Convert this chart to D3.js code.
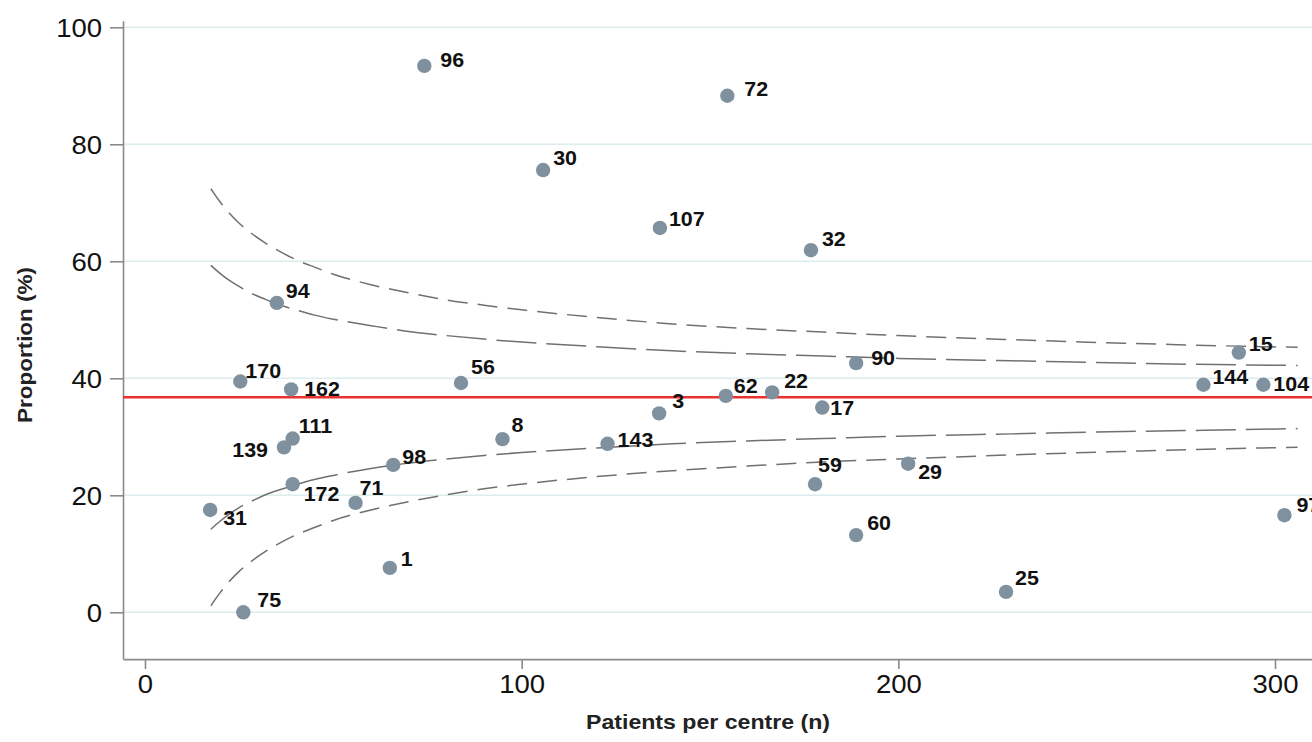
<!DOCTYPE html>
<html>
<head>
<meta charset="utf-8">
<script src="https://cdn.jsdelivr.net/npm/d3@7"></script>
<style>
  html, body { margin: 0; padding: 0; background: #fff; }
  svg { display: block; font-family: "Liberation Sans", Arial, Helvetica, sans-serif; }
</style>
</head>
<body>
<svg id="chart" width="1312" height="742"></svg>
<script>
// ---------- data ----------
const centreIds = [96, 72, 30, 107, 32, 94, 90, 15, 170, 162, 56, 62, 22, 17, 144, 104, 3, 8, 143, 111, 139, 98, 59, 29, 172, 71, 31, 60, 97, 1, 25, 75];
const patients  = [74.15, 154.6, 105.7, 136.7, 176.8, 35.0, 188.8, 290.4, 25.3, 38.8, 83.9, 154.2, 166.5, 179.8, 281.0, 296.9, 136.5, 94.9, 122.8, 39.2, 36.9, 65.9, 177.9, 202.6, 39.2, 55.9, 17.3, 188.8, 302.5, 65.0, 228.6, 26.1];
const proportion = [93.4, 88.3, 75.6, 65.7, 61.9, 52.9, 42.6, 44.4, 39.45, 38.1, 39.2, 37.0, 37.6, 35.0, 38.9, 38.9, 34.0, 29.6, 28.8, 29.7, 28.2, 25.2, 21.9, 25.4, 21.9, 18.7, 17.5, 13.2, 16.6, 7.6, 3.5, 0.0];

const overallProportion = 36.75;

// control-limit curves
const limitN      = [17.5, 18, 20, 22, 25, 28, 32, 36, 40, 45, 50, 60, 70, 80, 90, 100, 120, 140, 160, 180, 200, 230, 260, 290, 306];
const upperOuter  = [72.4, 71.9, 70.1, 68.5, 66.5, 64.9, 63.1, 61.6, 60.3, 59.0, 57.8, 56.0, 54.6, 53.4, 52.5, 51.7, 50.4, 49.3, 48.5, 47.9, 47.3, 46.6, 46.0, 45.5, 45.3];
const upperInner  = [59.3, 59.0, 57.9, 56.9, 55.7, 54.6, 53.5, 52.5, 51.7, 50.8, 50.1, 49.0, 48.0, 47.3, 46.7, 46.2, 45.4, 44.7, 44.2, 43.8, 43.4, 43.0, 42.6, 42.3, 42.2];
const lowerInner  = [14.2, 14.5, 15.6, 16.6, 17.9, 18.9, 20.1, 21.0, 21.8, 22.7, 23.4, 24.6, 25.5, 26.2, 26.8, 27.3, 28.1, 28.8, 29.3, 29.7, 30.1, 30.5, 30.9, 31.2, 31.4];
const lowerOuter  = [1.1, 1.6, 3.4, 5.0, 7.0, 8.6, 10.4, 11.9, 13.2, 14.5, 15.7, 17.5, 18.9, 20.1, 21.1, 21.9, 23.2, 24.2, 25.0, 25.7, 26.2, 26.9, 27.5, 28.0, 28.2];

const xTicks = [0, 100, 200, 300];
const yTicks = [0, 20, 40, 60, 80, 100];
const xTitle = "Patients per centre (n)";
const yTitle = "Proportion (%)";

// ---------- label placement (dx, dy from dot centre) ----------
const labelOffset = {
  96: [16, 1], 72: [17, 0], 30: [10, -5], 107: [9, -2], 32: [11, -4], 94: [9, -5],
  90: [15, 2], 15: [10, -2], 170: [5, -4], 162: [13, 7], 56: [10, -9], 62: [8, -3],
  22: [12, -4], 17: [8, 7], 144: [9, -1], 104: [10, 6], 3: [13, -5], 8: [9, -7],
  143: [10, 3], 111: [6, -6], 139: [-16, 10, "end"], 98: [9, -1], 59: [3, -12],
  29: [10, 15], 172: [11, 17], 71: [4, -8], 31: [13, 15], 60: [11, -5], 97: [12, -3],
  1: [11, -2], 25: [9, -7], 75: [14, -5]
};

// ---------- scales ----------
const svg = d3.select("#chart");
const W = 1312;
const x = d3.scaleLinear().domain([0, 300]).range([145, 1275]);
const y = d3.scaleLinear().domain([0, 100]).range([612.3, 27.3]);

const xAxisScale = x.copy().domain([-5.84, 320]).range([x(-5.84), x(320)]);
const yAxisScale = y.copy().domain([-8, 101.1]).range([y(-8), y(101.1)]);

// ---------- gridlines ----------
svg.append("g").selectAll("line").data(yTicks).join("line")
  .attr("x1", x(-5.84)).attr("x2", W)
  .attr("y1", d => y(d)).attr("y2", d => y(d))
  .attr("stroke", "#dcedee").attr("stroke-width", 1.6);

// ---------- axes ----------
const gx = svg.append("g").attr("transform", `translate(0,${y(-8)})`)
  .call(d3.axisBottom(xAxisScale).tickValues(xTicks).tickSize(10).tickSizeOuter(0).tickPadding(6));
const gy = svg.append("g").attr("transform", `translate(${x(-5.84)},0)`)
  .call(d3.axisLeft(yAxisScale).tickValues(yTicks).tickSize(13).tickSizeOuter(0).tickPadding(8));

[gx, gy].forEach(g => {
  g.select(".domain").attr("stroke", "#8a8a8a").attr("stroke-width", 1.6);
  g.selectAll(".tick line").attr("stroke", "#8a8a8a").attr("stroke-width", 1.6);
  g.selectAll(".tick text").attr("fill", "#111").attr("font-size", 25)
    .attr("font-family", "'Liberation Sans', Arial, sans-serif");
});
gy.selectAll(".tick text").attr("x", null).attr("dy", "0.35em")
  .attr("transform", "translate(-21,0) scale(1.1,1)");
gx.selectAll(".tick text").attr("y", null).attr("dy", "0.72em")
  .attr("transform", "translate(0,16) scale(1.1,1)");

// ---------- titles ----------
svg.append("text")
  .attr("x", 708).attr("y", 729)
  .attr("text-anchor", "middle")
  .attr("font-size", 21).attr("font-weight", "bold").attr("fill", "#222")
  .attr("textLength", 244).attr("lengthAdjust", "spacingAndGlyphs")
  .text(xTitle);

svg.append("text")
  .attr("transform", "translate(32,345) rotate(-90)")
  .attr("text-anchor", "middle")
  .attr("font-size", 21).attr("font-weight", "bold").attr("fill", "#222")
  .attr("textLength", 156).attr("lengthAdjust", "spacingAndGlyphs")
  .text(yTitle);

// ---------- funnel limits ----------
const lineGen = vals => d3.line()
  .x((d, i) => x(limitN[i]))
  .y(d => y(d))
  .curve(d3.curveMonotoneX)(vals);

[[upperOuter, "12,9"], [lowerOuter, "12,9"]].forEach(([vals, dash]) => {
  svg.append("path").attr("d", lineGen(vals))
    .attr("fill", "none").attr("stroke", "#707070").attr("stroke-width", 1.5)
    .attr("stroke-dasharray", "20,10");
});
[upperInner, lowerInner].forEach(vals => {
  svg.append("path").attr("d", lineGen(vals))
    .attr("fill", "none").attr("stroke", "#707070").attr("stroke-width", 1.5)
    .attr("stroke-dasharray", "40,10");
});

// ---------- overall proportion ----------
svg.append("line")
  .attr("x1", x(-5.84)).attr("x2", W)
  .attr("y1", y(overallProportion)).attr("y2", y(overallProportion))
  .attr("stroke", "#e8332f").attr("stroke-width", 2.4);

// ---------- points ----------
const pts = centreIds.map((id, i) => ({ id, n: patients[i], p: proportion[i] }));

svg.append("g").selectAll("circle").data(pts).join("circle")
  .attr("cx", d => x(d.n)).attr("cy", d => y(d.p)).attr("r", 7.2)
  .attr("fill", "#7f919e");

svg.append("g").selectAll("text").data(pts).join("text")
  .attr("transform", d => {
    const o = labelOffset[d.id] || [10, -4];
    return `translate(${x(d.n) + o[0]},${y(d.p) + o[1]}) scale(1.1,1)`;
  })
  .attr("text-anchor", d => (labelOffset[d.id] && labelOffset[d.id][2]) || "start")
  .attr("font-size", 19.5).attr("font-weight", "bold").attr("fill", "#111")
  .text(d => d.id);
</script>
</body>
</html>
